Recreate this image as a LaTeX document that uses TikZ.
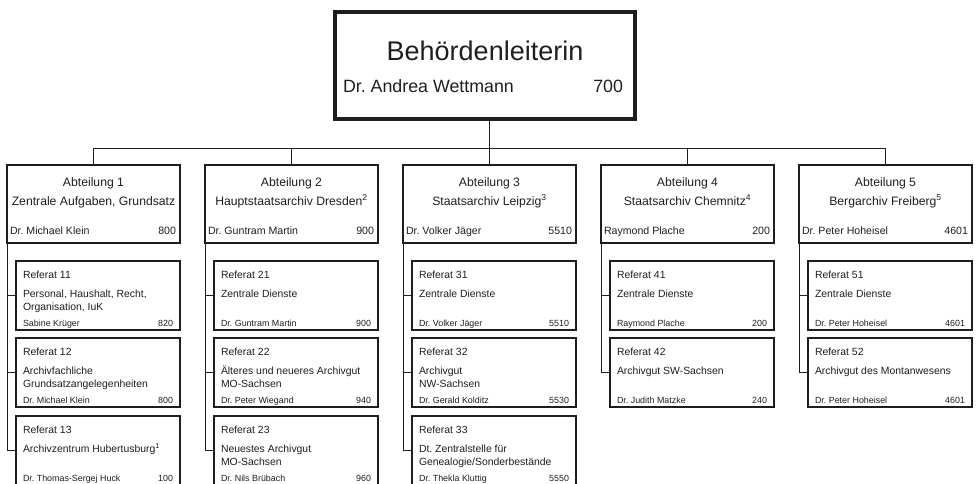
\documentclass[tikz,border=0pt]{standalone}
\usepackage{fontspec}
\setmainfont{Liberation Sans}
\frenchspacing
\definecolor{ink}{HTML}{1E1E1E}
\tikzset{
  every node/.style={inner sep=0pt, outer sep=0pt, text=ink},
  headbox/.style={draw=ink, line width=4pt, minimum width=300pt, minimum height=107pt, anchor=north west},
  abtbox/.style={draw=ink, line width=2pt, minimum width=173pt, minimum height=78pt, anchor=north west},
  refbox/.style={draw=ink, line width=1.2pt, minimum width=164pt, minimum height=69pt, anchor=north west},
  link/.style={draw=ink, line width=1pt},
  fbig/.style={font=\fontsize{27}{30}\selectfont},
  fheadname/.style={font=\fontsize{17.8}{20}\selectfont},
  fabt/.style={font=\fontsize{12.2}{14}\selectfont},
  fabtname/.style={font=\fontsize{10.6}{12}\selectfont},
  freft/.style={font=\fontsize{10.4}{13}\selectfont},
  frefname/.style={font=\fontsize{8.9}{10}\selectfont},
}
% #1 name, #2 left x, #3 number, #4 subtitle, #5 person, #6 phone
\newcommand\mkabt[6]{%
  \node[abtbox] (#1) at (#2,165) {};
  \node[fabt, anchor=base] (#1-t) at ([yshift=-21pt]#1.north) {\frenchspacing Abteilung #3};
  \node[fabt, anchor=base] (#1-s) at ([yshift=-40pt]#1.north) {\frenchspacing #4};
  \node[fabtname, anchor=base west] (#1-p) at ([xshift=3pt,yshift=-69pt]#1.north west) {\frenchspacing #5};
  \node[fabtname, anchor=base east] (#1-n) at ([xshift=-4pt,yshift=-69pt]#1.north east) {#6};
}
% #1 name, #2 left x, #3 top y, #4 number, #5 first line, #6 person, #7 phone
\newcommand\mkref[7]{%
  \node[refbox] (#1) at (#2,#3) {};
  \node[freft, anchor=base west] (#1-t) at ([xshift=7pt,yshift=-17pt]#1.north west) {Referat #4};
  \node[freft, anchor=base west] (#1-a) at ([xshift=7pt,yshift=-36pt]#1.north west) {\frenchspacing #5};
  \node[frefname, anchor=base west] (#1-p) at ([xshift=7pt,yshift=-65pt]#1.north west) {\frenchspacing #6};
  \node[frefname, anchor=base east] (#1-n) at ([xshift=-7pt,yshift=-65pt]#1.north east) {#7};
}
\newcommand\mkrefline[2]{%
  \node[freft, anchor=base west] (#1-b) at ([yshift=-13pt]#1-a.base west) {\frenchspacing #2};
}
\begin{document}
\begin{tikzpicture}[x=1pt,y=-1pt]
\useasboundingbox (0,0) rectangle (976,483);

% head
\node[headbox] (head) at (335,12) {};
\node[fbig, anchor=base] (head-t) at ([yshift=-48pt]head.north) {Behördenleiterin};
\node[fheadname, anchor=base west] (head-p) at ([xshift=8pt,yshift=-80pt]head.north west) {\frenchspacing Dr. Andrea Wettmann};
\node[fheadname, anchor=base east] (head-n) at ([xshift=-12pt,yshift=-80pt]head.north east) {700};

% departments
\mkabt{a1}{7}{1}{Zentrale Aufgaben, Grundsatz}{Dr. Michael Klein}{800}
\mkabt{a2}{205}{2}{Hauptstaatsarchiv Dresden\textsuperscript{2}}{Dr. Guntram Martin}{900}
\mkabt{a3}{403}{3}{Staatsarchiv Leipzig\textsuperscript{3}}{Dr. Volker Jäger}{5510}
\mkabt{a4}{601}{4}{Staatsarchiv Chemnitz\textsuperscript{4}}{Raymond Plache}{200}
\mkabt{a5}{799}{5}{Bergarchiv Freiberg\textsuperscript{5}}{Dr. Peter Hoheisel}{4601}

% column 1
\mkref{r11}{16}{261}{11}{Personal, Haushalt, Recht,}{Sabine Krüger}{820}
\mkrefline{r11}{Organisation, IuK}
\mkref{r12}{16}{338}{12}{Archivfachliche}{Dr. Michael Klein}{800}
\mkrefline{r12}{Grundsatzangelegenheiten}
\mkref{r13}{16}{416}{13}{Archivzentrum Hubertusburg\textsuperscript{1}}{Dr. Thomas-Sergej Huck}{100}

% column 2
\mkref{r21}{214}{261}{21}{Zentrale Dienste}{Dr. Guntram Martin}{900}
\mkref{r22}{214}{338}{22}{Älteres und neueres Archivgut}{Dr. Peter Wiegand}{940}
\mkrefline{r22}{MO-Sachsen}
\mkref{r23}{214}{416}{23}{Neuestes Archivgut}{Dr. Nils Brübach}{960}
\mkrefline{r23}{MO-Sachsen}

% column 3
\mkref{r31}{412}{261}{31}{Zentrale Dienste}{Dr. Volker Jäger}{5510}
\mkref{r32}{412}{338}{32}{Archivgut}{Dr. Gerald Kolditz}{5530}
\mkrefline{r32}{NW-Sachsen}
\mkref{r33}{412}{416}{33}{Dt. Zentralstelle für}{Dr. Thekla Kluttig}{5550}
\mkrefline{r33}{Genealogie/Sonderbestände}

% column 4
\mkref{r41}{610}{261}{41}{Zentrale Dienste}{Raymond Plache}{200}
\mkref{r42}{610}{338}{42}{Archivgut SW-Sachsen}{Dr. Judith Matzke}{240}

% column 5
\mkref{r51}{808}{261}{51}{Zentrale Dienste}{Dr. Peter Hoheisel}{4601}
\mkref{r52}{808}{338}{52}{Archivgut des Montanwesens}{Dr. Peter Hoheisel}{4601}

% bus
\coordinate (bus) at (0,148);
\draw[link] (head.south -| a3.north) -- (a3.north);
\draw[link] (a1.north) -- (a1.north |- bus) -- (a5.north |- bus) -- (a5.north);
\draw[link] (a2.north) -- (a2.north |- bus);
\draw[link] (a4.north) -- (a4.north |- bus);

% trees
\draw[link] (a1.south west) |- (r13.west);
\draw[link] (a1.south west |- r11.west) -- (r11.west);
\draw[link] (a1.south west |- r12.west) -- (r12.west);
\draw[link] (a2.south west) |- (r23.west);
\draw[link] (a2.south west |- r21.west) -- (r21.west);
\draw[link] (a2.south west |- r22.west) -- (r22.west);
\draw[link] (a3.south west) |- (r33.west);
\draw[link] (a3.south west |- r31.west) -- (r31.west);
\draw[link] (a3.south west |- r32.west) -- (r32.west);
\draw[link] (a4.south west) |- (r42.west);
\draw[link] (a4.south west |- r41.west) -- (r41.west);
\draw[link] (a5.south west) |- (r52.west);
\draw[link] (a5.south west |- r51.west) -- (r51.west);
\end{tikzpicture}
\end{document}
